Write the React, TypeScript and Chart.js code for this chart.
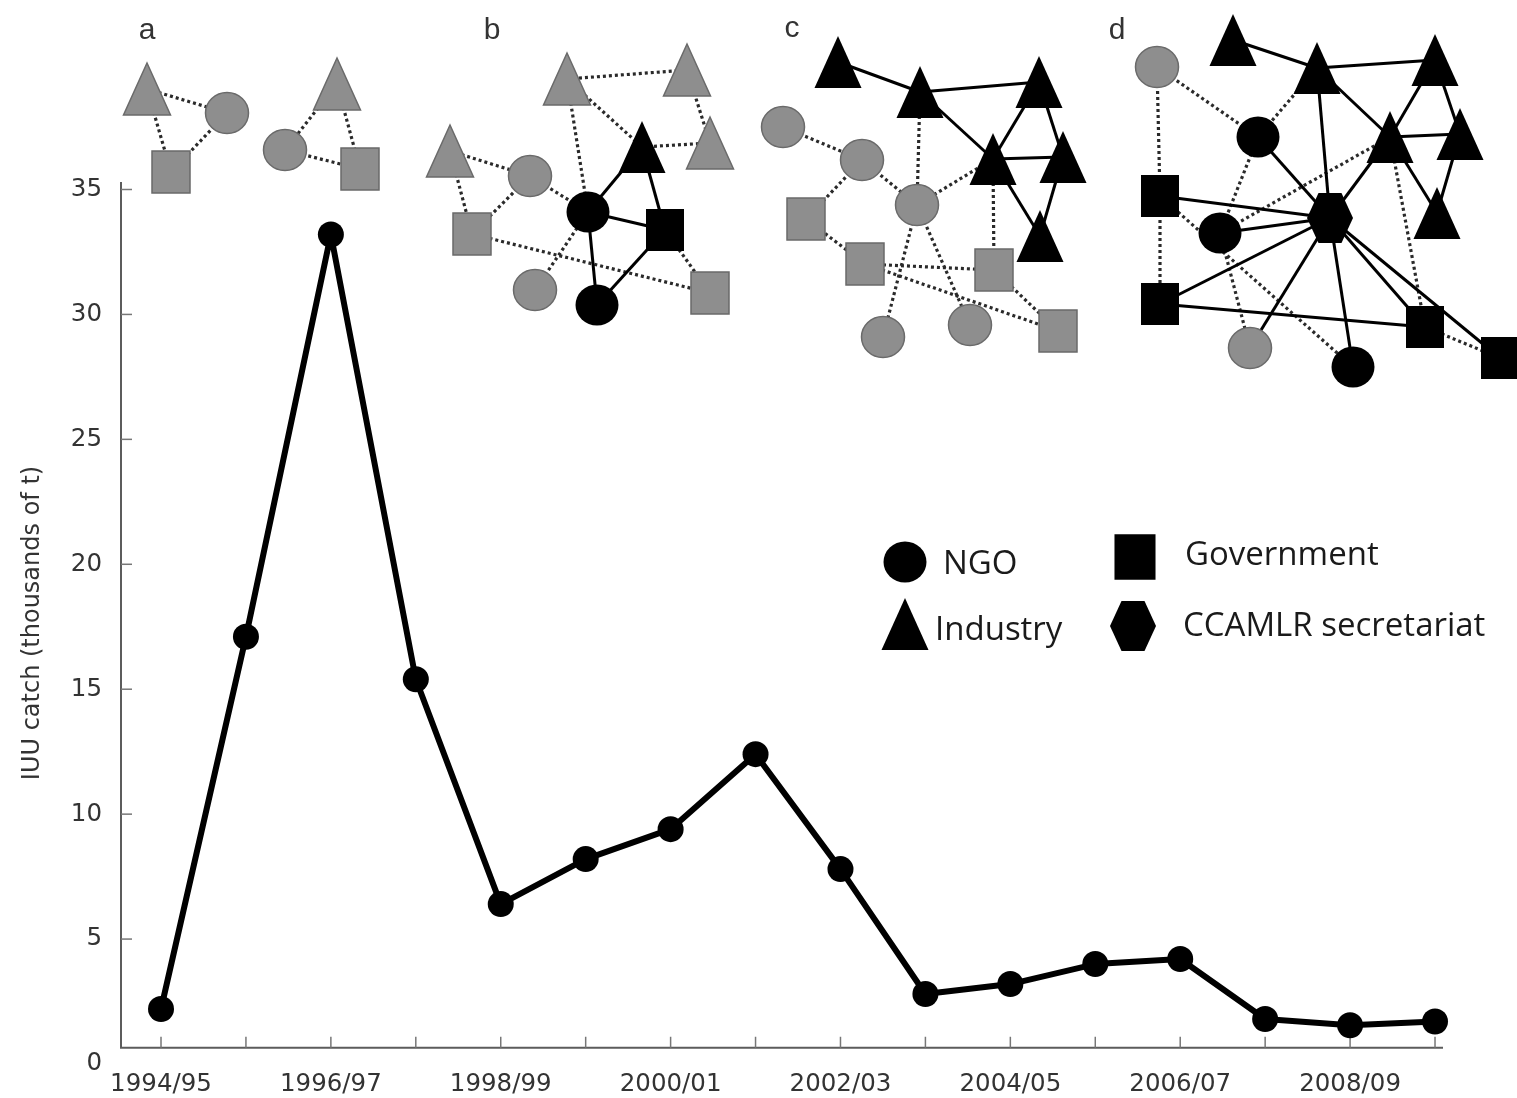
import { useEffect, useRef } from "react";
import { Chart, registerables } from "chart.js";

Chart.register(...registerables);

// Fishing seasons on the x axis and estimated IUU toothfish catch (thousands of t)
const seasons = [
  "1994/95", "1995/96", "1996/97", "1997/98", "1998/99", "1999/00", "2000/01", "2001/02",
  "2002/03", "2003/04", "2004/05", "2005/06", "2006/07", "2007/08", "2008/09", "2009/10",
];
const iuuCatch = [2.2, 17.1, 33.2, 15.4, 6.4, 8.2, 9.4, 12.4, 7.8, 2.8, 3.2, 4.0, 4.2, 1.8, 1.55, 1.7];
const yTickValues = [0, 5, 10, 15, 20, 25, 30, 35];
const labelledSeasons = [0, 2, 4, 6, 8, 10, 12, 14];

// where the horizontal axis line crosses the value axis
const X_AXIS_CROSS = 0.65;

// ---- stakeholder network panels (a–d) ----
type Kind = "circle" | "square" | "triangle" | "hexagon";
type NodeDef = [string, Kind, number, number, boolean]; // id, shape, x, y, linked actor (black)

interface Panel {
  label: string;
  labelAt: [number, number];
  nodes: NodeDef[];
  dotted: [string, string][];
  solid: [string, string][];
}

const panels: Panel[] = [
  {
    label: "a",
    labelAt: [147, 31],
    nodes: [
      ["t1", "triangle", 147, 89, false],
      ["c1", "circle", 227, 113, false],
      ["s1", "square", 171, 172, false],
      ["t2", "triangle", 337, 84, false],
      ["c2", "circle", 285, 150, false],
      ["s2", "square", 360, 169, false],
    ],
    dotted: [["t1", "c1"], ["t1", "s1"], ["s1", "c1"], ["t2", "c2"], ["t2", "s2"], ["c2", "s2"]],
    solid: [],
  },
  {
    label: "b",
    labelAt: [492, 31],
    nodes: [
      ["t1", "triangle", 567, 79, false],
      ["t2", "triangle", 687, 70, false],
      ["t3", "triangle", 450, 151, false],
      ["t4", "triangle", 710, 143, false],
      ["t5", "triangle", 642, 147, true],
      ["c1", "circle", 530, 176, false],
      ["s1", "square", 472, 234, false],
      ["c2", "circle", 588, 212, true],
      ["s2", "square", 665, 230, true],
      ["c3", "circle", 535, 290, false],
      ["c4", "circle", 597, 305, true],
      ["s3", "square", 710, 293, false],
    ],
    dotted: [
      ["t1", "t2"], ["t2", "t4"], ["t1", "t5"], ["t5", "t4"], ["t3", "c1"], ["t3", "s1"],
      ["c1", "s1"], ["c1", "c2"], ["t1", "c2"], ["s1", "s3"], ["c3", "c2"], ["s2", "s3"],
    ],
    solid: [["c2", "t5"], ["c2", "s2"], ["c2", "c4"], ["c4", "s2"], ["t5", "s2"]],
  },
  {
    label: "c",
    labelAt: [792, 29],
    nodes: [
      ["t1", "triangle", 838, 62, true],
      ["t2", "triangle", 920, 92, true],
      ["t3", "triangle", 1039, 82, true],
      ["t4", "triangle", 993, 159, true],
      ["t5", "triangle", 1063, 157, true],
      ["t6", "triangle", 1040, 236, true],
      ["c1", "circle", 783, 127, false],
      ["c2", "circle", 862, 160, false],
      ["c3", "circle", 917, 205, false],
      ["s1", "square", 806, 219, false],
      ["s2", "square", 865, 264, false],
      ["s3", "square", 994, 270, false],
      ["s4", "square", 1058, 331, false],
      ["c4", "circle", 883, 337, false],
      ["c5", "circle", 970, 325, false],
    ],
    dotted: [
      ["c1", "c2"], ["c2", "s1"], ["c2", "c3"], ["t2", "c3"], ["t4", "c3"], ["t4", "s3"],
      ["s1", "s2"], ["s2", "s3"], ["s2", "s4"], ["s3", "s4"], ["c3", "c4"], ["c3", "c5"],
    ],
    solid: [
      ["t1", "t2"], ["t2", "t3"], ["t2", "t4"], ["t3", "t4"], ["t3", "t5"], ["t4", "t5"],
      ["t4", "t6"], ["t5", "t6"],
    ],
  },
  {
    label: "d",
    labelAt: [1117, 31],
    nodes: [
      ["t1", "triangle", 1233, 40, true],
      ["t2", "triangle", 1317, 68, true],
      ["t3", "triangle", 1435, 60, true],
      ["t4", "triangle", 1390, 137, true],
      ["t5", "triangle", 1460, 134, true],
      ["t6", "triangle", 1437, 213, true],
      ["c1", "circle", 1157, 67, false],
      ["c2", "circle", 1258, 137, true],
      ["s1", "square", 1160, 196, true],
      ["h", "hexagon", 1330, 218, true],
      ["c3", "circle", 1220, 233, true],
      ["s2", "square", 1160, 304, true],
      ["c4", "circle", 1250, 348, false],
      ["c5", "circle", 1353, 367, true],
      ["s3", "square", 1425, 327, true],
      ["s4", "square", 1500, 358, true],
    ],
    dotted: [
      ["c1", "s1"], ["c1", "c2"], ["s1", "s2"], ["t2", "c2"], ["c2", "c3"], ["t4", "c3"],
      ["t4", "s3"], ["s1", "c5"], ["c3", "c4"], ["s3", "s4"],
    ],
    solid: [
      ["t1", "t2"], ["t2", "t3"], ["t2", "t4"], ["t2", "h"], ["t3", "t4"], ["t3", "t5"],
      ["t4", "t5"], ["t4", "t6"], ["t5", "t6"], ["t4", "h"], ["c2", "h"], ["s1", "h"],
      ["c3", "h"], ["s2", "h"], ["s2", "s3"], ["c4", "h"], ["h", "c5"], ["h", "s3"], ["h", "s4"],
    ],
  },
];

// ---- key for the actor shapes ----
type KeyItem = [Kind, number, number, string, number, number];
const keyItems: KeyItem[] = [
  ["circle", 905, 562, "NGO", 943, 565],
  ["square", 1135, 557, "Government", 1185, 556],
  ["triangle", 905, 624, "Industry", 935, 631],
  ["hexagon", 1133, 626, "CCAMLR secretariat", 1183, 627],
];

function shapePath(ctx: CanvasRenderingContext2D, kind: Kind, x: number, y: number, s = 1) {
  ctx.beginPath();
  if (kind === "circle") {
    ctx.ellipse(x, y, 21.5 * s, 20.5 * s, 0, 0, Math.PI * 2);
  } else if (kind === "square") {
    ctx.rect(x - 19 * s, y - 21 * s, 38 * s, 42 * s);
  } else if (kind === "triangle") {
    ctx.moveTo(x, y - 26 * s);
    ctx.lineTo(x + 23.5 * s, y + 26 * s);
    ctx.lineTo(x - 23.5 * s, y + 26 * s);
    ctx.closePath();
  } else {
    const rx = 23 * s;
    const ry = 25 * s;
    ctx.moveTo(x - rx, y);
    ctx.lineTo(x - rx / 2, y - ry);
    ctx.lineTo(x + rx / 2, y - ry);
    ctx.lineTo(x + rx, y);
    ctx.lineTo(x + rx / 2, y + ry);
    ctx.lineTo(x - rx / 2, y + ry);
    ctx.closePath();
  }
}

function drawActor(ctx: CanvasRenderingContext2D, kind: Kind, x: number, y: number, linked: boolean, s = 1) {
  shapePath(ctx, kind, x, y, s);
  if (linked) {
    ctx.fillStyle = "#000";
    ctx.fill();
  } else {
    ctx.fillStyle = "#8e8e8e";
    ctx.fill();
    ctx.lineWidth = 1.5;
    ctx.strokeStyle = "#6a6a6a";
    ctx.stroke();
  }
}

function drawPanel(ctx: CanvasRenderingContext2D, p: Panel) {
  const pos: Record<string, [number, number]> = {};
  p.nodes.forEach(([id, , x, y]) => (pos[id] = [x, y]));

  ctx.save();
  ctx.lineCap = "butt";
  ctx.setLineDash([3, 3]);
  ctx.lineWidth = 3.2;
  ctx.strokeStyle = "#2a2a2a";
  p.dotted.forEach(([a, b]) => {
    ctx.beginPath();
    ctx.moveTo(pos[a][0], pos[a][1]);
    ctx.lineTo(pos[b][0], pos[b][1]);
    ctx.stroke();
  });
  ctx.setLineDash([]);
  ctx.lineWidth = 3;
  ctx.strokeStyle = "#000";
  p.solid.forEach(([a, b]) => {
    ctx.beginPath();
    ctx.moveTo(pos[a][0], pos[a][1]);
    ctx.lineTo(pos[b][0], pos[b][1]);
    ctx.stroke();
  });
  p.nodes.forEach(([, kind, x, y, linked]) => drawActor(ctx, kind, x, y, linked));

  ctx.fillStyle = "#333";
  ctx.font = "30px 'Liberation Sans', Arial, sans-serif";
  ctx.textAlign = "center";
  ctx.textBaseline = "middle";
  ctx.fillText(p.label, p.labelAt[0], p.labelAt[1]);
  ctx.restore();
}

const decorPlugin = {
  id: "networkDecor",
  beforeDatasetsDraw(chart: any) {
    const { ctx, chartArea, scales } = chart;
    const xs = scales.x;
    const ys = scales.y;
    const axisY = ys.getPixelForValue(X_AXIS_CROSS);
    ctx.save();
    // axis lines
    ctx.strokeStyle = "#5c5c5c";
    ctx.lineWidth = 2;
    ctx.beginPath();
    ctx.moveTo(chartArea.left, chartArea.top);
    ctx.lineTo(chartArea.left, axisY);
    ctx.lineTo(chartArea.right, axisY);
    ctx.stroke();
    // inward tick marks
    ctx.strokeStyle = "#777";
    ctx.lineWidth = 1.5;
    seasons.forEach((_, i) => {
      const px = xs.getPixelForValue(i);
      ctx.beginPath();
      ctx.moveTo(px, axisY);
      ctx.lineTo(px, axisY - 11);
      ctx.stroke();
    });
    yTickValues.filter((v) => v > X_AXIS_CROSS).forEach((v) => {
      const py = ys.getPixelForValue(v);
      ctx.beginPath();
      ctx.moveTo(chartArea.left, py);
      ctx.lineTo(chartArea.left + 11, py);
      ctx.stroke();
    });
    ctx.restore();
  },
  afterDraw(chart: any) {
    const ctx: CanvasRenderingContext2D = chart.ctx;
    ctx.save();
    panels.forEach((p) => drawPanel(ctx, p));

    keyItems.forEach(([kind, x, y, text, tx, ty]) => {
      drawActor(ctx, kind, x, y, true, kind === "square" ? 1.08 : 1.0);
      ctx.fillStyle = "#1a1a1a";
      ctx.font = "33px 'Open Sans', sans-serif";
      ctx.textAlign = "left";
      ctx.textBaseline = "middle";
      ctx.fillText(text, tx, ty);
    });
    ctx.restore();
  },
};

export default function App() {
  const canvasRef = useRef<HTMLCanvasElement | null>(null);

  useEffect(() => {
    const canvas = canvasRef.current;
    if (!canvas) return;
    const axisFont = { family: "'DejaVu Sans', sans-serif", size: 24.5 };
    const chart = new Chart(canvas, {
      type: "line",
      data: {
        datasets: [
          {
            data: iuuCatch.map((v, i) => ({ x: i, y: v })),
            borderColor: "#000",
            borderWidth: 6,
            borderJoinStyle: "round",
            pointRadius: 13,
            pointHoverRadius: 13,
            pointBackgroundColor: "#000",
            pointBorderWidth: 0,
            tension: 0,
            clip: false,
          } as any,
        ],
      },
      options: {
        responsive: false,
        animation: false,
        events: [],
        layout: { padding: { top: 182, right: 74, bottom: 0, left: 0 } },
        plugins: { legend: { display: false }, tooltip: { enabled: false } },
        scales: {
          x: {
            type: "linear",
            min: -0.471,
            max: 15.094,
            grid: { display: false, drawTicks: false },
            border: { display: false },
            afterBuildTicks: (s: any) => {
              s.ticks = labelledSeasons.map((v) => ({ value: v }));
            },
            afterFit: (s: any) => {
              s.height = 34;
            },
            ticks: {
              padding: 6,
              maxRotation: 0,
              autoSkip: false,
              color: "#333",
              font: axisFont,
              callback: (v: any) => seasons[Number(v)] ?? "",
            },
          },
          y: {
            min: 0,
            max: 35.3,
            grid: { display: false, drawTicks: false },
            border: { display: false },
            afterBuildTicks: (s: any) => {
              s.ticks = yTickValues.map((v) => ({ value: v }));
            },
            afterFit: (s: any) => {
              s.width = 121;
            },
            ticks: { padding: 19, color: "#333", font: axisFont },
            title: {
              display: true,
              text: "IUU catch (thousands of t)",
              color: "#333",
              font: { family: "'DejaVu Sans', sans-serif", size: 24, lineHeight: 1.2 },
              padding: { top: 18, bottom: 0 },
            },
          },
        },
      } as any,
      plugins: [decorPlugin],
    });
    return () => chart.destroy();
  }, []);

  return (
    <div style={{ position: "fixed", left: 0, top: 0, width: 1517, height: 1098, background: "#fff" }}>
      <canvas ref={canvasRef} width={1517} height={1098} style={{ width: 1517, height: 1098, display: "block" }} />
    </div>
  );
}
